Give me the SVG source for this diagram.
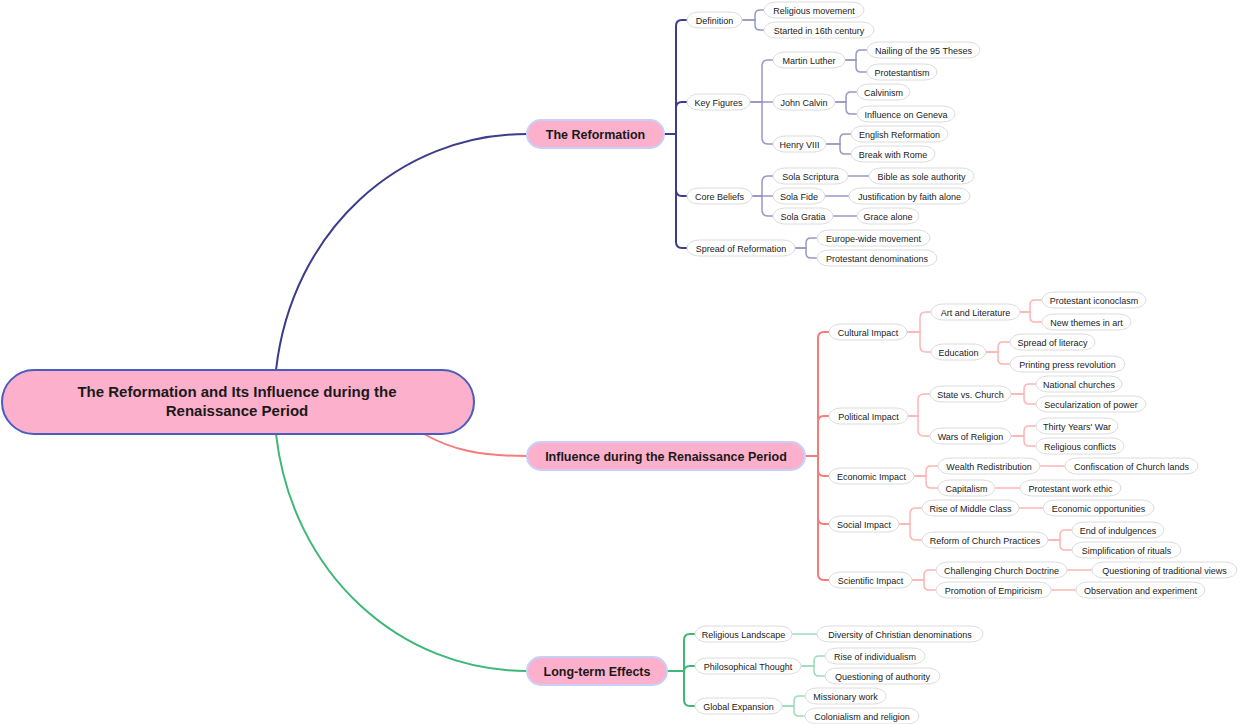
<svg xmlns="http://www.w3.org/2000/svg" width="1240" height="724" viewBox="0 0 1240 724">
<style>
text{font-family:"Liberation Sans",Arial,sans-serif;fill:#1a1a1a;}
.leaf rect{fill:#fff;stroke:#dcdcdc;stroke-width:1;}
.leaf text{font-size:9px;text-anchor:middle;dominant-baseline:central;transform:translateY(1px);}
.main rect{fill:#fdb0cb;stroke:#c8d0fa;stroke-width:2;}
.main text{font-size:12.5px;font-weight:bold;text-anchor:middle;dominant-baseline:central;transform:translateY(1px);}
.root rect{fill:#fdb0cb;stroke:#4a5cc0;stroke-width:2;}
.root text{font-size:15px;font-weight:bold;text-anchor:middle;}
path{fill:none;}
.b1{stroke:#3c3d8a;stroke-width:2;}
.b2{stroke:#9898c8;stroke-width:1.5;}
.r1{stroke:#f77b7b;stroke-width:2;}
.r2{stroke:#ffb4b4;stroke-width:1.5;}
.g1{stroke:#3db877;stroke-width:2;}
.g2{stroke:#9cdcbb;stroke-width:1.5;}
</style>
<g id="connectors">
<path class="b1" d="M276,370 C292,230 400,134 527,134"/>
<path class="r1" d="M424,434 C452,450 480,456 527,456"/>
<path class="g1" d="M276,434 C292,574 400,671 527,671"/>
<path class="b1" d="M664,134 H676 V26 Q676,20 682,20 H687"/>
<path class="b1" d="M664,134 H676 V108 Q676,102 682,102 H687"/>
<path class="b1" d="M664,134 H676 V190 Q676,196 682,196 H687"/>
<path class="b1" d="M664,134 H676 V242 Q676,248 682,248 H687"/>
<path class="b2" d="M742,20 H755 V15 Q755,10 760,10 H764"/>
<path class="b2" d="M742,20 H755 V25 Q755,30 760,30 H764"/>
<path class="b2" d="M750,102 H762 V66 Q762,60 768,60 H773"/>
<path class="b2" d="M750,102 H773"/>
<path class="b2" d="M750,102 H762 V138 Q762,144 768,144 H773"/>
<path class="b2" d="M845,60 H856 V55 Q856,50 861,50 H867"/>
<path class="b2" d="M845,60 H856 V67 Q856,72 861,72 H867"/>
<path class="b2" d="M835,102 H846 V97 Q846,92 851,92 H857"/>
<path class="b2" d="M835,102 H846 V109 Q846,114 851,114 H857"/>
<path class="b2" d="M826,144 H840 V139 Q840,134 845,134 H851"/>
<path class="b2" d="M826,144 H840 V149 Q840,154 845,154 H851"/>
<path class="b2" d="M752,196 H762 V182 Q762,176 768,176 H773"/>
<path class="b2" d="M752,196 H773"/>
<path class="b2" d="M752,196 H762 V210 Q762,216 768,216 H773"/>
<path class="b2" d="M848,176 H869"/>
<path class="b2" d="M825,196 H849"/>
<path class="b2" d="M833,216 H857"/>
<path class="b2" d="M795,248 H806 V243 Q806,238 811,238 H817"/>
<path class="b2" d="M795,248 H806 V253 Q806,258 811,258 H817"/>
<path class="r1" d="M805,456 H818 V338 Q818,332 824,332 H829"/>
<path class="r1" d="M805,456 H818 V422 Q818,416 824,416 H829"/>
<path class="r1" d="M805,456 H818 V470 Q818,476 824,476 H829"/>
<path class="r1" d="M805,456 H818 V518 Q818,524 824,524 H829"/>
<path class="r1" d="M805,456 H818 V574 Q818,580 824,580 H829"/>
<path class="r2" d="M907,332 H920 V318 Q920,312 926,312 H931"/>
<path class="r2" d="M907,332 H920 V346 Q920,352 926,352 H931"/>
<path class="r2" d="M1020,312 H1030 V305 Q1030,300 1035,300 H1042"/>
<path class="r2" d="M1020,312 H1030 V317 Q1030,322 1035,322 H1042"/>
<path class="r2" d="M986,352 H998 V347 Q998,342 1003,342 H1010"/>
<path class="r2" d="M986,352 H998 V359 Q998,364 1003,364 H1010"/>
<path class="r2" d="M908,416 H918 V400 Q918,394 924,394 H930"/>
<path class="r2" d="M908,416 H918 V430 Q918,436 924,436 H930"/>
<path class="r2" d="M1011,394 H1024 V389 Q1024,384 1029,384 H1036"/>
<path class="r2" d="M1011,394 H1024 V399 Q1024,404 1029,404 H1036"/>
<path class="r2" d="M1011,436 H1024 V431 Q1024,426 1029,426 H1036"/>
<path class="r2" d="M1011,436 H1024 V441 Q1024,446 1029,446 H1036"/>
<path class="r2" d="M914,476 H926 V471 Q926,466 931,466 H938"/>
<path class="r2" d="M914,476 H926 V483 Q926,488 931,488 H938"/>
<path class="r2" d="M1040,466 H1065"/>
<path class="r2" d="M995,488 H1020"/>
<path class="r2" d="M899,524 H910 V514 Q910,508 916,508 H922"/>
<path class="r2" d="M899,524 H910 V534 Q910,540 916,540 H922"/>
<path class="r2" d="M1019,508 H1043"/>
<path class="r2" d="M1048,540 H1060 V535 Q1060,530 1065,530 H1072"/>
<path class="r2" d="M1048,540 H1060 V545 Q1060,550 1065,550 H1072"/>
<path class="r2" d="M912,580 H924 V575 Q924,570 929,570 H936"/>
<path class="r2" d="M912,580 H924 V585 Q924,590 929,590 H936"/>
<path class="r2" d="M1067,570 H1092"/>
<path class="r2" d="M1051,590 H1076"/>
<path class="g1" d="M667,671 H684 V640 Q684,634 690,634 H695"/>
<path class="g1" d="M667,671 H684 M684,672 Q684,666 690,666 H695"/>
<path class="g1" d="M667,671 H684 V700 Q684,706 690,706 H695"/>
<path class="g2" d="M792,634 H817"/>
<path class="g2" d="M801,666 H814 V661 Q814,656 819,656 H825"/>
<path class="g2" d="M801,666 H814 V671 Q814,676 819,676 H825"/>
<path class="g2" d="M782,706 H794 V701 Q794,696 799,696 H805"/>
<path class="g2" d="M782,706 H794 V711 Q794,716 799,716 H805"/>
</g>
<g id="root" class="root"><rect x="2" y="370" width="472" height="64" rx="32"/><text x="237" y="397">The Reformation and Its Influence during the</text><text x="237" y="416">Renaissance Period</text></g>
<g id="n-reformation" class="main"><rect x="527" y="120" width="137" height="28" rx="14"/><text x="595.5" y="134">The Reformation</text></g>
<g id="n-influence" class="main"><rect x="527" y="442" width="278" height="28" rx="14"/><text x="666" y="456">Influence during the Renaissance Period</text></g>
<g id="n-longterm" class="main"><rect x="527" y="657" width="140" height="28" rx="14"/><text x="597" y="671">Long-term Effects</text></g>
<g id="n-definition" class="leaf"><rect x="687" y="12" width="55" height="16" rx="12" ry="8"/><text x="714.5" y="20">Definition</text></g>
<g id="n-relmov" class="leaf"><rect x="764" y="2" width="100" height="16" rx="12" ry="8"/><text x="814" y="10">Religious movement</text></g>
<g id="n-16th" class="leaf"><rect x="764" y="22" width="110" height="16" rx="12" ry="8"/><text x="819" y="30">Started in 16th century</text></g>
<g id="n-keyfig" class="leaf"><rect x="687" y="94" width="63" height="16" rx="12" ry="8"/><text x="718.5" y="102">Key Figures</text></g>
<g id="n-luther" class="leaf"><rect x="773" y="52" width="72" height="16" rx="12" ry="8"/><text x="809" y="60">Martin Luther</text></g>
<g id="n-95" class="leaf"><rect x="867" y="42" width="113" height="16" rx="12" ry="8"/><text x="923.5" y="50">Nailing of the 95 Theses</text></g>
<g id="n-prot" class="leaf"><rect x="867" y="64" width="70" height="16" rx="12" ry="8"/><text x="902" y="72">Protestantism</text></g>
<g id="n-calvin" class="leaf"><rect x="773" y="94" width="62" height="16" rx="12" ry="8"/><text x="804" y="102">John Calvin</text></g>
<g id="n-calvinism" class="leaf"><rect x="857" y="84" width="53" height="16" rx="12" ry="8"/><text x="883.5" y="92">Calvinism</text></g>
<g id="n-geneva" class="leaf"><rect x="857" y="106" width="98" height="16" rx="12" ry="8"/><text x="906" y="114">Influence on Geneva</text></g>
<g id="n-henry" class="leaf"><rect x="773" y="136" width="53" height="16" rx="12" ry="8"/><text x="799.5" y="144">Henry VIII</text></g>
<g id="n-engref" class="leaf"><rect x="851" y="126" width="97" height="16" rx="12" ry="8"/><text x="899.5" y="134">English Reformation</text></g>
<g id="n-rome" class="leaf"><rect x="851" y="146" width="84" height="16" rx="12" ry="8"/><text x="893" y="154">Break with Rome</text></g>
<g id="n-core" class="leaf"><rect x="687" y="188" width="65" height="16" rx="12" ry="8"/><text x="719.5" y="196">Core Beliefs</text></g>
<g id="n-scriptura" class="leaf"><rect x="773" y="168" width="75" height="16" rx="12" ry="8"/><text x="810.5" y="176">Sola Scriptura</text></g>
<g id="n-bible" class="leaf"><rect x="869" y="168" width="105" height="16" rx="12" ry="8"/><text x="921.5" y="176">Bible as sole authority</text></g>
<g id="n-fide" class="leaf"><rect x="773" y="188" width="52" height="16" rx="12" ry="8"/><text x="799" y="196">Sola Fide</text></g>
<g id="n-justif" class="leaf"><rect x="849" y="188" width="121" height="16" rx="12" ry="8"/><text x="909.5" y="196">Justification by faith alone</text></g>
<g id="n-gratia" class="leaf"><rect x="773" y="208" width="60" height="16" rx="12" ry="8"/><text x="803" y="216">Sola Gratia</text></g>
<g id="n-grace" class="leaf"><rect x="857" y="208" width="62" height="16" rx="12" ry="8"/><text x="888" y="216">Grace alone</text></g>
<g id="n-spread" class="leaf"><rect x="687" y="240" width="108" height="16" rx="12" ry="8"/><text x="741" y="248">Spread of Reformation</text></g>
<g id="n-europe" class="leaf"><rect x="817" y="230" width="113" height="16" rx="12" ry="8"/><text x="873.5" y="238">Europe-wide movement</text></g>
<g id="n-protden" class="leaf"><rect x="817" y="250" width="120" height="16" rx="12" ry="8"/><text x="877" y="258">Protestant denominations</text></g>
<g id="n-cultural" class="leaf"><rect x="829" y="324" width="78" height="16" rx="12" ry="8"/><text x="868" y="332">Cultural Impact</text></g>
<g id="n-art" class="leaf"><rect x="931" y="304" width="89" height="16" rx="12" ry="8"/><text x="975.5" y="312">Art and Literature</text></g>
<g id="n-icon" class="leaf"><rect x="1042" y="292" width="104" height="16" rx="12" ry="8"/><text x="1094" y="300">Protestant iconoclasm</text></g>
<g id="n-themes" class="leaf"><rect x="1042" y="314" width="89" height="16" rx="12" ry="8"/><text x="1086.5" y="322">New themes in art</text></g>
<g id="n-edu" class="leaf"><rect x="931" y="344" width="55" height="16" rx="12" ry="8"/><text x="958.5" y="352">Education</text></g>
<g id="n-literacy" class="leaf"><rect x="1010" y="334" width="85" height="16" rx="12" ry="8"/><text x="1052.5" y="342">Spread of literacy</text></g>
<g id="n-press" class="leaf"><rect x="1010" y="356" width="115" height="16" rx="12" ry="8"/><text x="1067.5" y="364">Printing press revolution</text></g>
<g id="n-political" class="leaf"><rect x="829" y="408" width="79" height="16" rx="12" ry="8"/><text x="868.5" y="416">Political Impact</text></g>
<g id="n-state" class="leaf"><rect x="930" y="386" width="81" height="16" rx="12" ry="8"/><text x="970.5" y="394">State vs. Church</text></g>
<g id="n-national" class="leaf"><rect x="1036" y="376" width="86" height="16" rx="12" ry="8"/><text x="1079" y="384">National churches</text></g>
<g id="n-secular" class="leaf"><rect x="1036" y="396" width="110" height="16" rx="12" ry="8"/><text x="1091" y="404">Secularization of power</text></g>
<g id="n-wars" class="leaf"><rect x="930" y="428" width="81" height="16" rx="12" ry="8"/><text x="970.5" y="436">Wars of Religion</text></g>
<g id="n-thirty" class="leaf"><rect x="1036" y="418" width="82" height="16" rx="12" ry="8"/><text x="1077" y="426">Thirty Years' War</text></g>
<g id="n-relconf" class="leaf"><rect x="1036" y="438" width="88" height="16" rx="12" ry="8"/><text x="1080" y="446">Religious conflicts</text></g>
<g id="n-economic" class="leaf"><rect x="829" y="468" width="85" height="16" rx="12" ry="8"/><text x="871.5" y="476">Economic Impact</text></g>
<g id="n-wealth" class="leaf"><rect x="938" y="458" width="102" height="16" rx="12" ry="8"/><text x="989" y="466">Wealth Redistribution</text></g>
<g id="n-confisc" class="leaf"><rect x="1065" y="458" width="133" height="16" rx="12" ry="8"/><text x="1131.5" y="466">Confiscation of Church lands</text></g>
<g id="n-capital" class="leaf"><rect x="938" y="480" width="57" height="16" rx="12" ry="8"/><text x="966.5" y="488">Capitalism</text></g>
<g id="n-ethic" class="leaf"><rect x="1020" y="480" width="101" height="16" rx="12" ry="8"/><text x="1070.5" y="488">Protestant work ethic</text></g>
<g id="n-social" class="leaf"><rect x="829" y="516" width="70" height="16" rx="12" ry="8"/><text x="864" y="524">Social Impact</text></g>
<g id="n-middle" class="leaf"><rect x="922" y="500" width="97" height="16" rx="12" ry="8"/><text x="970.5" y="508">Rise of Middle Class</text></g>
<g id="n-econopp" class="leaf"><rect x="1043" y="500" width="111" height="16" rx="12" ry="8"/><text x="1098.5" y="508">Economic opportunities</text></g>
<g id="n-reform" class="leaf"><rect x="922" y="532" width="126" height="16" rx="12" ry="8"/><text x="985" y="540">Reform of Church Practices</text></g>
<g id="n-indulg" class="leaf"><rect x="1072" y="522" width="92" height="16" rx="12" ry="8"/><text x="1118" y="530">End of indulgences</text></g>
<g id="n-rituals" class="leaf"><rect x="1072" y="542" width="109" height="16" rx="12" ry="8"/><text x="1126.5" y="550">Simplification of rituals</text></g>
<g id="n-scientific" class="leaf"><rect x="829" y="572" width="83" height="16" rx="12" ry="8"/><text x="870.5" y="580">Scientific Impact</text></g>
<g id="n-challenge" class="leaf"><rect x="936" y="562" width="131" height="16" rx="12" ry="8"/><text x="1001.5" y="570">Challenging Church Doctrine</text></g>
<g id="n-questtrad" class="leaf"><rect x="1092" y="562" width="145" height="16" rx="12" ry="8"/><text x="1164.5" y="570">Questioning of traditional views</text></g>
<g id="n-empiric" class="leaf"><rect x="936" y="582" width="115" height="16" rx="12" ry="8"/><text x="993.5" y="590">Promotion of Empiricism</text></g>
<g id="n-observ" class="leaf"><rect x="1076" y="582" width="129" height="16" rx="12" ry="8"/><text x="1140.5" y="590">Observation and experiment</text></g>
<g id="n-rellandscape" class="leaf"><rect x="695" y="626" width="97" height="16" rx="12" ry="8"/><text x="743.5" y="634">Religious Landscape</text></g>
<g id="n-diversity" class="leaf"><rect x="817" y="626" width="166" height="16" rx="12" ry="8"/><text x="900" y="634">Diversity of Christian denominations</text></g>
<g id="n-philo" class="leaf"><rect x="695" y="658" width="106" height="16" rx="12" ry="8"/><text x="748" y="666">Philosophical Thought</text></g>
<g id="n-indiv" class="leaf"><rect x="825" y="648" width="100" height="16" rx="12" ry="8"/><text x="875" y="656">Rise of individualism</text></g>
<g id="n-questauth" class="leaf"><rect x="825" y="668" width="115" height="16" rx="12" ry="8"/><text x="882.5" y="676">Questioning of authority</text></g>
<g id="n-global" class="leaf"><rect x="695" y="698" width="87" height="16" rx="12" ry="8"/><text x="738.5" y="706">Global Expansion</text></g>
<g id="n-mission" class="leaf"><rect x="805" y="688" width="81" height="16" rx="12" ry="8"/><text x="845.5" y="696">Missionary work</text></g>
<g id="n-colonial" class="leaf"><rect x="805" y="708" width="114" height="16" rx="12" ry="8"/><text x="862" y="716">Colonialism and religion</text></g>
</svg>
